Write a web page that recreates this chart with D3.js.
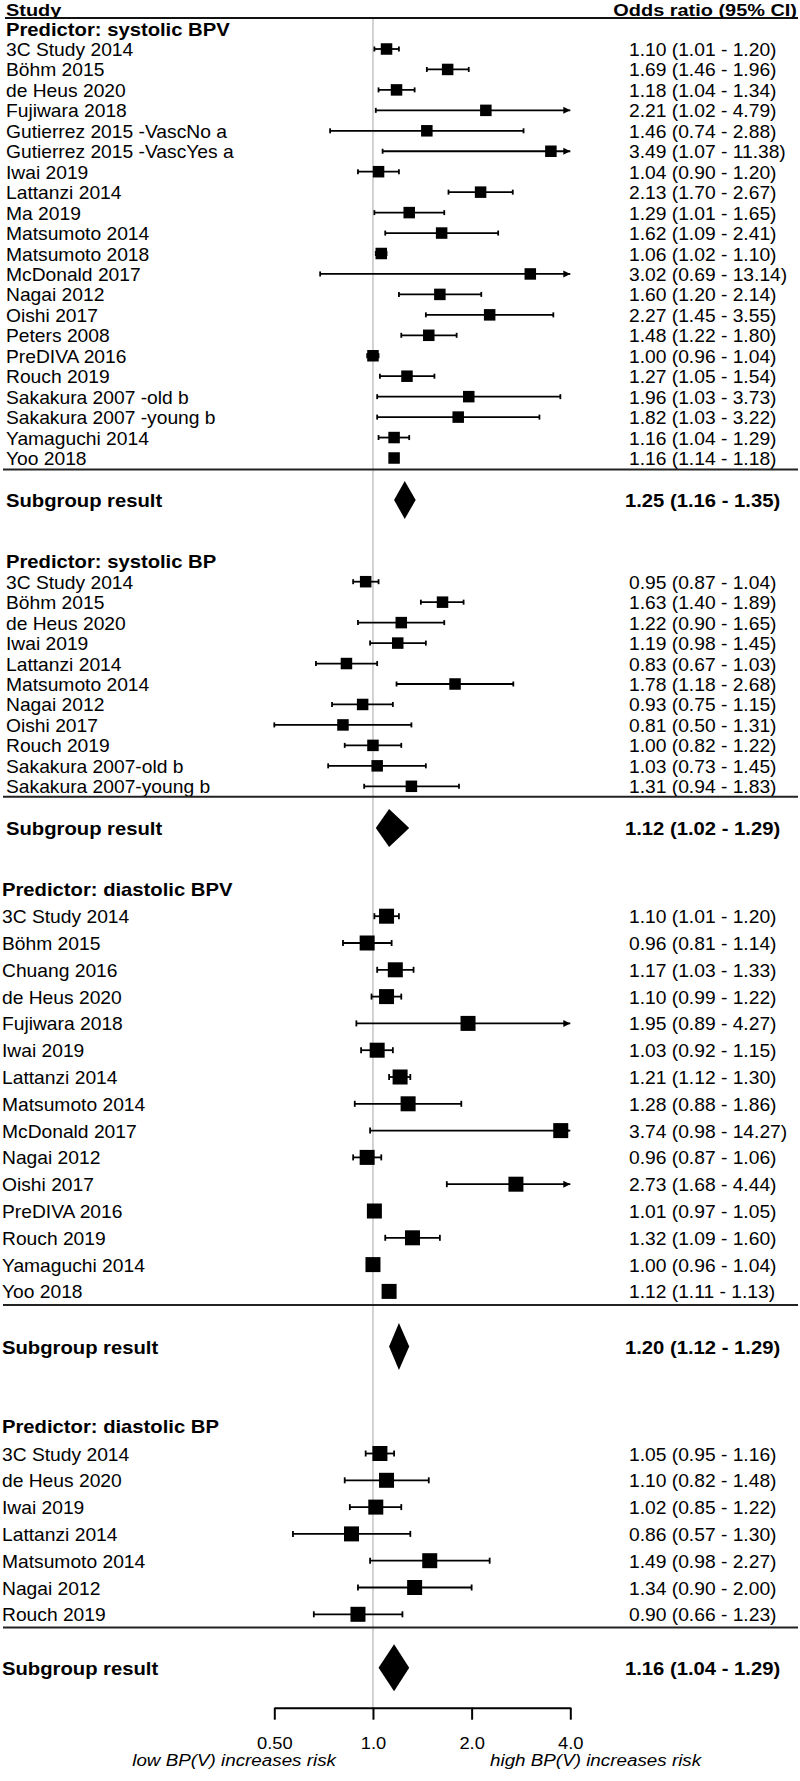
<!DOCTYPE html>
<html><head><meta charset="utf-8">
<script src="https://cdn.jsdelivr.net/npm/d3@7"></script>
<style>
body{margin:0;background:#fff}
svg{display:block}
text{font-family:"Liberation Sans",Arial,sans-serif;fill:#000}
</style>
</head><body>
<svg id="c" width="800" height="1781"></svg>
<script>
// ---------- DATA ----------
const sectionTitles = ["Predictor: systolic BPV","Predictor: systolic BP","Predictor: diastolic BPV","Predictor: diastolic BP"];

const studies1 = ["3C Study 2014","Böhm 2015","de Heus 2020","Fujiwara 2018","Gutierrez 2015 -VascNo a","Gutierrez 2015 -VascYes a","Iwai 2019","Lattanzi 2014","Ma 2019","Matsumoto 2014","Matsumoto 2018","McDonald 2017","Nagai 2012","Oishi 2017","Peters 2008","PreDIVA 2016","Rouch 2019","Sakakura 2007 -old b","Sakakura 2007 -young b","Yamaguchi 2014","Yoo 2018"];
const or1 = [1.10,1.69,1.18,2.21,1.46,3.49,1.04,2.13,1.29,1.62,1.06,3.02,1.60,2.27,1.48,1.00,1.27,1.96,1.82,1.16,1.16];
const lo1 = [1.01,1.46,1.04,1.02,0.74,1.07,0.90,1.70,1.01,1.09,1.02,0.69,1.20,1.45,1.22,0.96,1.05,1.03,1.03,1.04,1.14];
const hi1 = [1.20,1.96,1.34,4.79,2.88,11.38,1.20,2.67,1.65,2.41,1.10,13.14,2.14,3.55,1.80,1.04,1.54,3.73,3.22,1.29,1.18];

const studies2 = ["3C Study 2014","Böhm 2015","de Heus 2020","Iwai 2019","Lattanzi 2014","Matsumoto 2014","Nagai 2012","Oishi 2017","Rouch 2019","Sakakura 2007-old b","Sakakura 2007-young b"];
const or2 = [0.95,1.63,1.22,1.19,0.83,1.78,0.93,0.81,1.00,1.03,1.31];
const lo2 = [0.87,1.40,0.90,0.98,0.67,1.18,0.75,0.50,0.82,0.73,0.94];
const hi2 = [1.04,1.89,1.65,1.45,1.03,2.68,1.15,1.31,1.22,1.45,1.83];

const studies3 = ["3C Study 2014","Böhm 2015","Chuang 2016","de Heus 2020","Fujiwara 2018","Iwai 2019","Lattanzi 2014","Matsumoto 2014","McDonald 2017","Nagai 2012","Oishi 2017","PreDIVA 2016","Rouch 2019","Yamaguchi 2014","Yoo 2018"];
const or3 = [1.10,0.96,1.17,1.10,1.95,1.03,1.21,1.28,3.74,0.96,2.73,1.01,1.32,1.00,1.12];
const lo3 = [1.01,0.81,1.03,0.99,0.89,0.92,1.12,0.88,0.98,0.87,1.68,0.97,1.09,0.96,1.11];
const hi3 = [1.20,1.14,1.33,1.22,4.27,1.15,1.30,1.86,14.27,1.06,4.44,1.05,1.60,1.04,1.13];

const studies4 = ["3C Study 2014","de Heus 2020","Iwai 2019","Lattanzi 2014","Matsumoto 2014","Nagai 2012","Rouch 2019"];
const or4 = [1.05,1.10,1.02,0.86,1.49,1.34,0.90];
const lo4 = [0.95,0.82,0.85,0.57,0.98,0.90,0.66];
const hi4 = [1.16,1.48,1.22,1.30,2.27,2.00,1.23];

const subOR = [1.25,1.12,1.20,1.16];
const subLo = [1.16,1.02,1.12,1.04];
const subHi = [1.35,1.29,1.29,1.29];

const tickValues = [0.5,1,2,4];
const tickLabels = ["0.50","1.0","2.0","4.0"];
const headerLeft = "Study";
const headerRight = "Odds ratio (95% CI)";
const subgroupLabel = "Subgroup result";
const lowLabel = "low BP(V) increases risk";
const highLabel = "high BP(V) increases risk";

// ---------- LAYOUT ----------
const layout = [
  {head:36,   first:49,    last:458,    line:469.5, dia:500,    diaH:38, box:11.5, cap:5, tx:6},
  {head:568,  first:581.7, last:786.3,  line:796.7, dia:828,    diaH:38, box:11.5, cap:5, tx:6},
  {head:896,  first:916.2, last:1291.4, line:1305,  dia:1346.5, diaH:47, box:15,   cap:6, tx:2},
  {head:1433.3,first:1453.5,last:1614.3,line:1627.5,dia:1667.7, diaH:47, box:15,   cap:6, tx:2}
];
const sections = [
  {studies:studies1, or:or1, lo:lo1, hi:hi1},
  {studies:studies2, or:or2, lo:lo2, hi:hi2},
  {studies:studies3, or:or3, lo:lo3, hi:hi3},
  {studies:studies4, or:or4, lo:lo4, hi:hi4}
];

const svg = d3.select("#c");
const x = d3.scaleLog().domain([0.5,4]).range([274.3,570.3]);
const xMax = 4, xMin = 0.5;
const axisY = 1707.7;
const fmt = d3.format(".2f");

const NORMAL = {fs:17.5, sx:1.1, fw:"normal", st:"normal"};
const BOLD = {fs:18.4, sx:1.1, fw:"bold", st:"normal"};
const HEAD = {fs:16.6, sx:1.2, fw:"bold", st:"normal"};
const ITAL = {fs:16.8, sx:1.12, fw:"normal", st:"italic"};

function txt(g, px, py, s, f, anchor){
  return g.append("text")
    .attr("transform", `translate(${px},${py}) scale(${f.sx},1)`)
    .attr("text-anchor", anchor || "start")
    .style("font-size", f.fs + "px")
    .style("font-weight", f.fw)
    .style("font-style", f.st)
    .text(s);
}

// reference line at OR = 1
svg.append("line")
  .attr("x1", x(1)).attr("x2", x(1))
  .attr("y1", 18).attr("y2", axisY)
  .attr("stroke", "#c4c4c4").attr("stroke-width", 1.5);

// header
txt(svg, 6, 16, headerLeft, HEAD);
txt(svg, 797, 16, headerRight, HEAD, "end");
svg.append("line").attr("x1", 5).attr("x2", 798).attr("y1", 18).attr("y2", 18)
  .attr("stroke", "#111").attr("stroke-width", 2);

sections.forEach((sec, si) => {
  const L = layout[si];
  const g = svg.append("g");
  txt(g, L.tx, L.head, sectionTitles[si], BOLD);

  const y = d3.scalePoint().domain(sec.studies).range([L.first, L.last]);

  sec.studies.forEach((name, i) => {
    const cy = y(name);
    const textY = cy + 7;
    txt(g, L.tx, textY, name, NORMAL);
    txt(g, 629, textY, `${fmt(sec.or[i])} (${fmt(sec.lo[i])} - ${fmt(sec.hi[i])})`, NORMAL);

    const loC = Math.max(sec.lo[i], xMin), hiC = Math.min(sec.hi[i], xMax);
    const x0 = x(loC), x1 = x(hiC);
    g.append("line").attr("x1", x0).attr("x2", x1).attr("y1", cy).attr("y2", cy)
      .attr("stroke", "#000").attr("stroke-width", 1.8);
    g.append("line").attr("x1", x0).attr("x2", x0).attr("y1", cy - L.cap/2).attr("y2", cy + L.cap/2)
      .attr("stroke", "#000").attr("stroke-width", 1.8);
    if (sec.hi[i] > xMax) {
      g.append("path")
        .attr("d", `M${x1},${cy} L${x1-7},${cy-3.5} L${x1-7},${cy+3.5} Z`)
        .attr("fill", "#000");
    } else {
      g.append("line").attr("x1", x1).attr("x2", x1).attr("y1", cy - L.cap/2).attr("y2", cy + L.cap/2)
        .attr("stroke", "#000").attr("stroke-width", 1.8);
    }
    const cx = x(Math.min(sec.or[i], xMax));
    g.append("rect").attr("x", cx - L.box/2).attr("y", cy - L.box/2)
      .attr("width", L.box).attr("height", L.box).attr("fill", "#000");
  });

  g.append("line").attr("x1", 3).attr("x2", 798).attr("y1", L.line).attr("y2", L.line)
    .attr("stroke", "#222").attr("stroke-width", 2);

  const dy = L.dia, h = L.diaH / 2;
  g.append("path")
    .attr("d", `M${x(subLo[si])},${dy} L${x(subOR[si])},${dy-h} L${x(subHi[si])},${dy} L${x(subOR[si])},${dy+h} Z`)
    .attr("fill", "#000");
  txt(g, L.tx, dy + 7, subgroupLabel, BOLD);
  txt(g, 625, dy + 7, `${fmt(subOR[si])} (${fmt(subLo[si])} - ${fmt(subHi[si])})`, BOLD);
});

// axis
const axis = d3.axisBottom(x)
  .tickValues(tickValues)
  .tickFormat((d, i) => tickLabels[i])
  .tickSize(12).tickSizeOuter(0).tickPadding(17.5);
const ag = svg.append("g").attr("transform", `translate(0,${axisY})`).call(axis);
ag.select(".domain").attr("stroke", "#000").attr("stroke-width", 2);
ag.selectAll(".tick line").attr("stroke", "#000").attr("stroke-width", 2);
ag.selectAll(".tick text")
  .attr("fill", "#000")
  .style("font-family", '"Liberation Sans",Arial,sans-serif')
  .style("font-size", "16.5px")
  .attr("transform", "scale(1.11,1)");

txt(svg, 336, 1766, lowLabel, ITAL, "end");
txt(svg, 490, 1766, highLabel, ITAL, "start");
</script>
</body></html>
